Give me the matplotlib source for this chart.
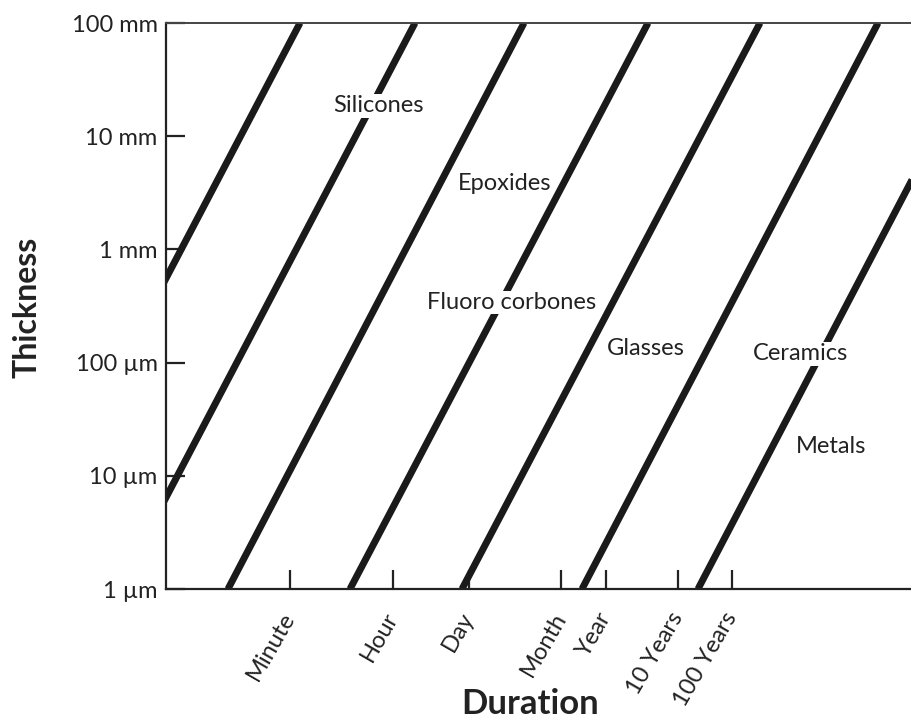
import numpy as np
import matplotlib
matplotlib.use("Agg")
import matplotlib.pyplot as plt

# x axis: relative duration position (arbitrary units)
tick_pos = [124, 227, 303, 395, 440, 512, 566]
tick_labels = ["Minute", "Hour", "Day", "Month", "Year", "10 Years", "100 Years"]

# thickness in micrometres
y_ticks = [1, 10, 100, 1e3, 1e4, 1e5]
y_labels = ["1 µm", "10 µm", "100 µm", "1 mm", "10 mm", "100 mm"]

# each material line: x position at 1 µm and at 100 mm
line_x_bottom = [-163, -48, 62, 184, 296, 416, 532]
line_x_top = [134, 249, 358, 482, 594, 712, 828]

materials = ["Silicones", "Epoxides", "Fluoro corbones", "Glasses", "Ceramics", "Metals"]
label_x = [212, 339, 346, 480, 634, 665]
label_y = [1.85e4, 3.8e3, 3.4e2, 1.34e2, 1.2e2, 1.8e1]

plt.rcParams['font.family'] = ['Lato', 'DejaVu Sans']
txt = "#222222"

fig = plt.figure(figsize=(9.11, 7.19), dpi=100)
ax = fig.add_axes([166/911, 1-589/719, 745/911, 566/719])

for xb, xt in zip(line_x_bottom, line_x_top):
    ax.plot([xb, xt], [1, 1e5], color="#1a1a1a", lw=5, solid_capstyle="butt", zorder=2)

for name, lx, ly in zip(materials, label_x, label_y):
    ax.text(lx, ly, name, fontsize=17, color=txt, ha="center", va="center", zorder=3,
            bbox=dict(facecolor="white", edgecolor="none", pad=1))

ax.set_yscale("log")
ax.set_xlim(0, 745)
ax.set_ylim(1, 1e5)
ax.set_yticks(y_ticks)
ax.set_yticklabels(y_labels)
ax.yaxis.set_minor_locator(matplotlib.ticker.NullLocator())
ax.set_xticks(tick_pos)
ax.set_xticklabels(tick_labels, rotation=60, ha="right", va="center", rotation_mode="anchor")

ax.tick_params(axis="both", direction="in", length=14, width=1.6, color="#222222",
               labelsize=17, labelcolor=txt)
ax.tick_params(axis="y", pad=6)
ax.tick_params(axis="x", pad=18)

ax.spines["right"].set_visible(False)
for s in ["left", "bottom"]:
    ax.spines[s].set_linewidth(1.6)
    ax.spines[s].set_color("#222222")
ax.spines["top"].set_linewidth(1.4)
ax.spines["top"].set_color("#444444")

fig.text(27/911, 1-307/719, "Thickness", fontsize=23, fontweight="bold", color=txt,
         rotation=90, ha="center", va="center")
fig.text(530/911, 1-714/719, "Duration", fontsize=25, fontweight="bold", color=txt,
         ha="center", va="baseline")

fig.savefig("out.png", dpi=100)
